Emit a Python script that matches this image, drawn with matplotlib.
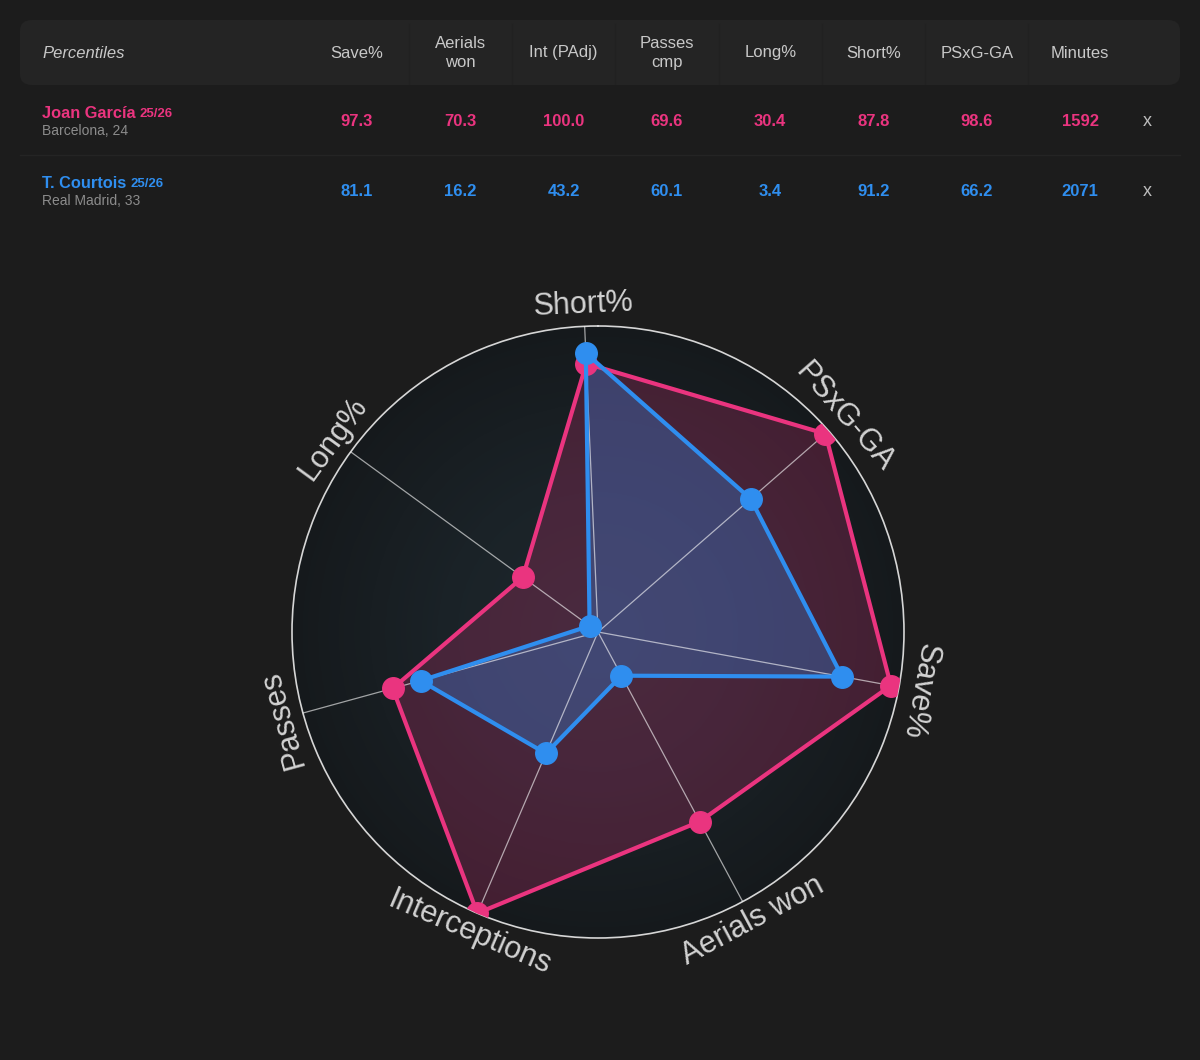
import numpy as np
import matplotlib.pyplot as plt
from matplotlib.patches import FancyBboxPatch
from matplotlib.colors import LinearSegmentedColormap

# table columns and values
columns = ['Save%', 'Aerials\nwon', 'Int (PAdj)', 'Passes\ncmp', 'Long%', 'Short%', 'PSxG-GA', 'Minutes']
players = ['Joan García', 'T. Courtois']
seasons = ['25/26', '25/26']
subtitles = ['Barcelona, 24', 'Real Madrid, 33']
garcia_row = ['97.3', '70.3', '100.0', '69.6', '30.4', '87.8', '98.6', '1592']
courtois_row = ['81.1', '16.2', '43.2', '60.1', '3.4', '91.2', '66.2', '2071']

# radar, clockwise from the top
radar_labels = ['Short%', 'PSxG-GA', 'Save%', 'Aerials won', 'Interceptions', 'Passes', 'Long%']
garcia = [87.8, 98.6, 97.3, 70.3, 100.0, 69.6, 30.4]
courtois = [91.2, 66.2, 81.1, 16.2, 43.2, 60.1, 3.4]

PINK = '#ea347f'
BLUE = '#2f8eef'
BG = '#1c1c1c'
W, H = 1200, 1060

plt.rcParams['font.family'] = ['Liberation Sans', 'DejaVu Sans']

fig = plt.figure(figsize=(12, 10.6), dpi=100)
fig.patch.set_facecolor(BG)


def fx(x):
    return x / W


def fy(y):
    return 1 - y / H


# header panel
hdr = FancyBboxPatch((fx(20), fy(85)), fx(1160), 65 / H,
                     boxstyle='round,pad=0,rounding_size=0.01',
                     transform=fig.transFigure, facecolor='#242424', edgecolor='none')
fig.patches.append(hdr)
col_x = [357 + i * 103.3 for i in range(len(columns))]
for cx in col_x[:-1]:
    fig.add_artist(plt.Line2D([fx(cx + 51.6)] * 2, [fy(24), fy(84)], color='#212121', lw=1,
                              transform=fig.transFigure))
fig.add_artist(plt.Line2D([fx(20), fx(1180)], [fy(155)] * 2, color='#242424', lw=1,
                          transform=fig.transFigure))

fig.text(fx(42), fy(53), 'Percentiles', color='#c8c8c8', fontsize=12, style='italic',
         ha='left', va='center')
for cx, name in zip(col_x, columns):
    fig.text(fx(cx), fy(53), name, color='#c8c8c8', fontsize=12, ha='center', va='center',
             linespacing=1.4)

rows = [garcia_row, courtois_row]
colors = [PINK, BLUE]
row_y = [121, 191]
for i in range(2):
    y = row_y[i]
    t = fig.text(fx(42), fy(y - 8), players[i], color=colors[i], fontsize=11.8,
                 fontweight='bold', ha='left', va='center')
    fig.canvas.draw()
    bb = t.get_window_extent()
    fig.text(bb.x1 / W + fx(4), fy(y - 7), seasons[i], color=colors[i], fontsize=9.5,
             fontweight='bold', ha='left', va='center')
    fig.text(fx(42), fy(y + 10), subtitles[i], color='#8c8c8c', fontsize=10,
             ha='left', va='center')
    for cx, v in zip(col_x, rows[i]):
        fig.text(fx(cx), fy(y), v, color=colors[i], fontsize=12, fontweight='bold',
                 ha='center', va='center')
    fig.text(fx(1147), fy(y + 1), 'x', color='#bdbdbd', fontsize=13, ha='center', va='center')

# radar
cx0, cy0, rad = 598, 632, 306
ax = fig.add_axes([fx(cx0 - rad), fy(cy0 + rad), 2 * rad / W, 2 * rad / H], projection='polar')
ax.set_theta_zero_location('N')
ax.set_theta_direction(-1)
ax.set_facecolor('none')
ax.set_ylim(0, 100)
ax.set_xticks([])
ax.set_yticks([])
ax.grid(False)
ax.spines['polar'].set_color('#d6d6d6')
ax.spines['polar'].set_linewidth(1.2)

# radial gradient background
grad = LinearSegmentedColormap.from_list('g', ['#1e272d', '#1a2227', '#15191c'])
tt = np.linspace(0, 2 * np.pi, 181)
rr = np.linspace(0, 100, 60)
T, R = np.meshgrid(tt, rr)
ax.pcolormesh(T, R, R[:-1, :-1], cmap=grad, shading='flat', zorder=0)

n = len(radar_labels)
theta = np.radians(-2.5 + np.arange(n) * 360 / n)
theta_c = np.append(theta, theta[0])

g = np.array(garcia + garcia[:1])
c = np.array(courtois + courtois[:1])
ax.fill(theta_c, g, color=PINK, alpha=0.22, lw=0, zorder=2)
ax.fill(theta_c, c, color=BLUE, alpha=0.3, lw=0, zorder=3)

for th in theta:
    ax.plot([th, th], [0, 100], color='white', alpha=0.6, lw=0.9, zorder=4)

ax.plot(theta_c, g, color=PINK, lw=3, zorder=5)
ax.plot(theta, garcia, 'o', color=PINK, ms=15.5, zorder=6)
ax.plot(theta_c, c, color=BLUE, lw=3, zorder=7)
ax.plot(theta, courtois, 'o', color=BLUE, ms=15.5, zorder=8)

for th, lab in zip(theta, radar_labels):
    b = np.degrees(th)
    rot = -b
    if np.cos(th) < -0.5:
        rot += 180
    ax.text(th, 107, lab, rotation=rot, rotation_mode='anchor', ha='center', va='center',
            color='#d2d2d2', fontsize=22, clip_on=False)

fig.savefig('out.png', dpi=100, facecolor=BG)
